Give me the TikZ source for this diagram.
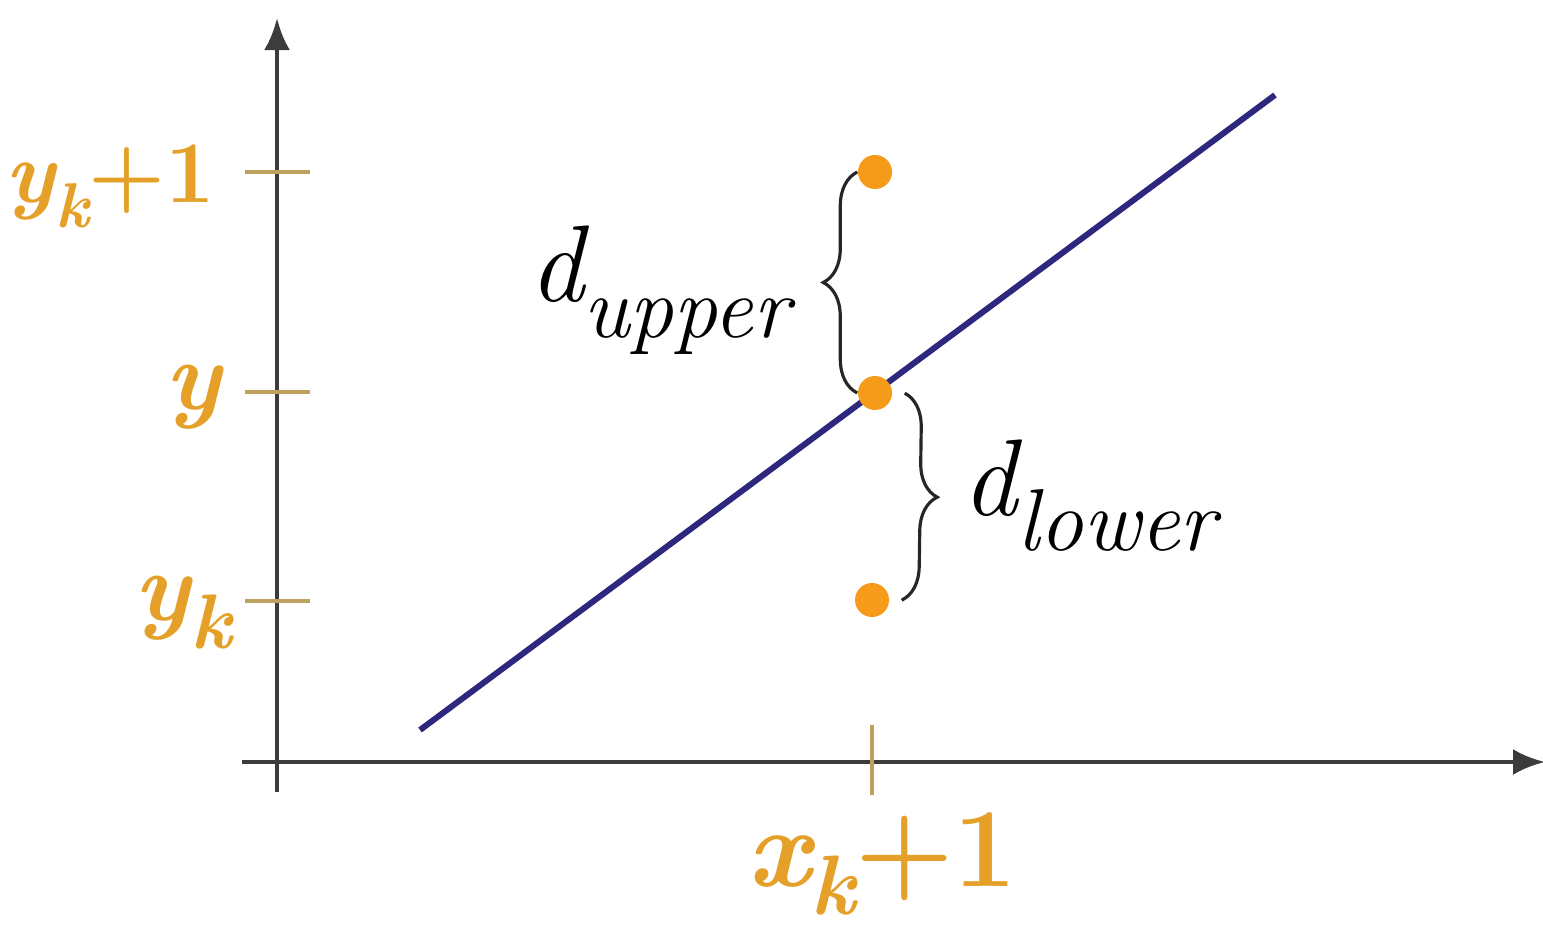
\documentclass[tikz,border=0pt]{standalone}
\usepackage{tikz}
\usepackage{xcolor}
\usetikzlibrary{arrows.meta,positioning,decorations.pathreplacing}

\definecolor{axisgray}{RGB}{60,60,60}
\definecolor{tickcol}{RGB}{190,160,95}
\definecolor{lblcol}{RGB}{228,160,40}
\definecolor{dotcol}{RGB}{245,155,25}
\definecolor{linecol}{RGB}{45,40,125}

\newcommand{\sublow}[3]{{\itshape #1}\raisebox{-#3}{\itshape #2}}

\begin{document}
\begin{tikzpicture}[
  x=0.01cm,y=-0.01cm,
  axis/.style={draw=axisgray,line width=1.4pt,-{Latex[length=3.2mm,width=2.6mm]}},
  tickmark/.style={draw=tickcol,line width=1pt},
  dot/.style={circle,fill=dotcol,inner sep=0pt,minimum size=3.4mm},
  lbl/.style={text=lblcol,font=\fontsize{28}{28}\selectfont\bfseries,inner sep=0pt},
  dlbl/.style={text=black,font=\fontsize{31}{31}\selectfont,inner sep=0pt},
  brace/.style={draw=black!85,line width=0.9pt,decorate,decoration={brace,amplitude=3.4mm}}
]
\useasboundingbox (0,0) rectangle (1543,925);
% axes
\coordinate (o) at (277,762);
\coordinate (ytop) at (277,18);
\coordinate (ybot) at (277,792);
\coordinate (xleft) at (242,762);
\coordinate (xright) at (1545,762);
\draw[axis] (ybot)--(ytop);
\draw[axis] (xleft)--(xright);
% ticks
\coordinate (t1a) at (245,172); \coordinate (t1b) at (310,172);
\coordinate (t2a) at (245,392); \coordinate (t2b) at (310,392);
\coordinate (t3a) at (245,601); \coordinate (t3b) at (310,601);
\coordinate (t4a) at (872,725); \coordinate (t4b) at (872,795);
\draw[tickmark] (t1a)--(t1b);
\draw[tickmark] (t2a)--(t2b);
\draw[tickmark] (t3a)--(t3b);
\draw[tickmark] (t4a)--(t4b);
% labels
\node[lbl,anchor=base east,font=\fontsize{25}{25}\selectfont\bfseries] (ykp) at (216,203) {\sublow{y}{\fontsize{18}{18}\selectfont k}{7pt}+1};
\node[lbl,anchor=base east] (yy) at (222,410) {\itshape y};
\node[lbl,anchor=base east] (yk) at (232,620) {\sublow{y}{\fontsize{22}{22}\selectfont k}{8pt}};
\node[lbl,anchor=base,font=\fontsize{32}{32}\selectfont\bfseries] (xk) at (882,886) {\sublow{x}{\fontsize{24}{24}\selectfont k}{8pt}+1};
% line
\coordinate (l0) at (420,730);
\coordinate (l1) at (1275,95);
\draw[linecol,line width=1.7pt] (l0)--(l1);
% points
\node[dot] (top) at (875,172) {};
\node[dot] (mid) at (875,393) {};
\node[dot] (bot) at (872,600) {};
% braces
\draw[brace] (mid.west)--(top.west);
\draw[brace,decoration={raise=1.2mm}] (mid.east)--(bot.east);
\node[dlbl,anchor=base east] (dup) at (790,302) {\sublow{d}{\fontsize{25}{25}\selectfont upper}{10pt}};
\node[dlbl,anchor=base west] (dlow) at (962,515) {\sublow{d}{\fontsize{25}{25}\selectfont lower}{10pt}};
\end{tikzpicture}
\end{document}
